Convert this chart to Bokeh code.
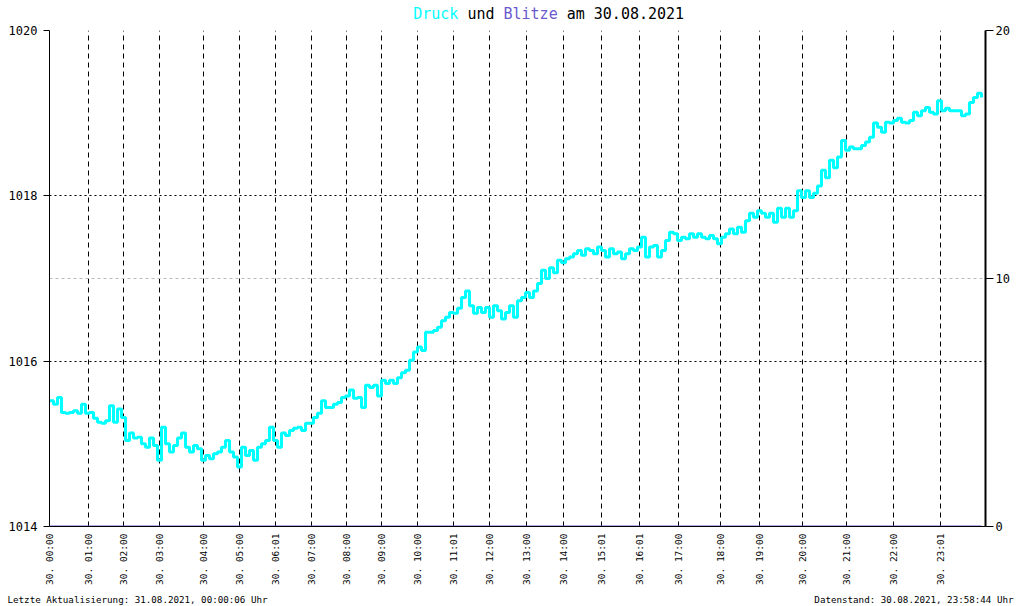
import math
from bokeh.plotting import figure
from bokeh.layouts import column
from bokeh.models import Range1d, LinearAxis, FixedTicker, Span
from bokeh.core.properties import value
from bokeh.embed import file_html
from bokeh.resources import INLINE

# ---- data -------------------------------------------------------------
druck = [
    1015.52, 1015.48, 1015.56, 1015.38, 1015.37, 1015.38, 1015.40, 1015.37, 1015.48, 1015.37,
    1015.38, 1015.31, 1015.26, 1015.25, 1015.28, 1015.46, 1015.26, 1015.42, 1015.32, 1015.04,
    1015.13, 1015.07, 1015.08, 1015.00, 1014.96, 1015.07, 1014.98, 1014.80, 1015.20, 1015.00,
    1014.90, 1014.98, 1015.07, 1015.13, 1014.96, 1014.90, 1014.98, 1014.94, 1014.80, 1014.86,
    1014.82, 1014.88, 1014.90, 1014.96, 1015.04, 1014.90, 1014.84, 1014.72, 1014.96, 1014.86,
    1014.92, 1014.80, 1014.96, 1015.00, 1015.04, 1015.20, 1015.04, 1014.96, 1015.13, 1015.10,
    1015.16, 1015.19, 1015.20, 1015.16, 1015.25, 1015.25, 1015.32, 1015.37, 1015.52, 1015.44,
    1015.44, 1015.48, 1015.50, 1015.56, 1015.58, 1015.65, 1015.55, 1015.56, 1015.44, 1015.71,
    1015.68, 1015.71, 1015.58, 1015.77, 1015.73, 1015.77, 1015.73, 1015.80, 1015.86, 1015.89,
    1016.01, 1016.11, 1016.17, 1016.13, 1016.35, 1016.35, 1016.37, 1016.41, 1016.49, 1016.53,
    1016.59, 1016.58, 1016.64, 1016.77, 1016.85, 1016.67, 1016.58, 1016.65, 1016.59, 1016.65,
    1016.53, 1016.67, 1016.61, 1016.51, 1016.59, 1016.67, 1016.53, 1016.73, 1016.77, 1016.83,
    1016.77, 1016.85, 1016.94, 1017.10, 1017.00, 1017.13, 1017.07, 1017.22, 1017.19, 1017.24,
    1017.26, 1017.30, 1017.34, 1017.28, 1017.36, 1017.34, 1017.30, 1017.38, 1017.34, 1017.26,
    1017.36, 1017.30, 1017.32, 1017.24, 1017.30, 1017.36, 1017.34, 1017.38, 1017.50, 1017.26,
    1017.38, 1017.40, 1017.26, 1017.34, 1017.46, 1017.56, 1017.54, 1017.46, 1017.50, 1017.48,
    1017.54, 1017.50, 1017.54, 1017.50, 1017.48, 1017.52, 1017.48, 1017.42, 1017.50, 1017.54,
    1017.60, 1017.54, 1017.62, 1017.56, 1017.70, 1017.79, 1017.74, 1017.82, 1017.79, 1017.74,
    1017.79, 1017.68, 1017.85, 1017.74, 1017.85, 1017.74, 1017.82, 1018.06, 1017.98, 1018.06,
    1017.98, 1018.03, 1018.12, 1018.31, 1018.22, 1018.43, 1018.34, 1018.47, 1018.67, 1018.55,
    1018.59, 1018.57, 1018.57, 1018.61, 1018.65, 1018.71, 1018.88, 1018.83, 1018.77, 1018.89,
    1018.88, 1018.91, 1018.94, 1018.89, 1018.88, 1018.91, 1019.01, 1018.97, 1019.03, 1019.07,
    1019.01, 1018.99, 1019.15, 1019.03, 1019.06, 1019.03, 1019.03, 1019.03, 1018.97, 1018.99,
    1019.13, 1019.19, 1019.24, 1019.19,
]
sample_index = list(range(len(druck)))

# sample index at which each hour label sits
hour_ticks = [0, 9.75, 18.6, 27.6, 38.6, 47.6, 56.6, 65.4, 74.25, 83, 92, 101,
              110, 119.25, 128.5, 138, 147.6, 157.25, 167.75, 177.5, 188.25, 199.25, 211, 222.75]
hour_labels = ["30. 00:00", "30. 01:00", "30. 02:00", "30. 03:00", "30. 04:00", "30. 05:00",
               "30. 06:01", "30. 07:00", "30. 08:00", "30. 09:00", "30. 10:00", "30. 11:01",
               "30. 12:00", "30. 13:00", "30. 14:00", "30. 15:01", "30. 16:01", "30. 17:00",
               "30. 18:00", "30. 19:00", "30. 20:00", "30. 21:00", "30. 22:00", "30. 23:01"]

blitze_x = hour_ticks + [233]
blitze = [0, 0, 0, 0, 0, 0, 0, 0, 0, 0, 0, 0, 0, 0, 0, 0, 0, 0, 0, 0, 0, 0, 0, 0, 0]

left_ticks = [1014, 1016, 1018, 1020]
right_ticks = [0, 10, 20]

title_words = ["Druck", "und", "Blitze", "am 30.08.2021"]
footer_left = "Letzte Aktualisierung: 31.08.2021, 00:00:06 Uhr"
footer_right = "Datenstand: 30.08.2021, 23:58:44 Uhr"

# ---- style ------------------------------------------------------------
MONO = "DejaVu Sans Mono"
CYAN = "#00FFFF"
SLATE = "#6A5ACD"
W = 1020


def bare(fig):
    fig.outline_line_color = None
    fig.background_fill_color = "white"
    fig.border_fill_color = "white"
    fig.xgrid.visible = False
    fig.ygrid.visible = False
    fig.frame_align = False
    return fig


# ---- title strip ------------------------------------------------------
TITLE_H = 22
tfig = bare(figure(width=W, height=TITLE_H, output_backend="svg", toolbar_location=None,
                   x_range=Range1d(0, W), y_range=Range1d(TITLE_H, 0),
                   x_axis_type=None, y_axis_type=None,
                   min_border_left=0, min_border_right=0, min_border_top=0, min_border_bottom=0))
char_w = 15 * 0.602
title_start = 412.7
title_offsets = [0, 6, 10, 17]
title_colors = [CYAN, "black", SLATE, "black"]
tfig.text(x=[title_start + o * char_w for o in title_offsets], y=[13] * 4, text=title_words,
          text_color=title_colors, text_font=value(MONO), text_font_size="15px",
          text_baseline="middle", text_align="left")

# ---- main chart -------------------------------------------------------
MAIN_H = 570
p = figure(width=W, height=MAIN_H, output_backend="svg", toolbar_location=None,
           x_range=Range1d(0, 234), y_range=Range1d(1014, 1020),
           min_border_left=49, min_border_right=35, min_border_top=8, min_border_bottom=66)
p.extra_y_ranges = {"blitz": Range1d(0, 20)}
p.outline_line_color = None
p.background_fill_color = "white"
p.border_fill_color = "white"
p.frame_align = False

xa = p.xaxis[0]
xa.ticker = FixedTicker(ticks=hour_ticks)
xa.major_label_overrides = {t: l for t, l in zip(hour_ticks, hour_labels)}
xa.major_label_orientation = math.pi / 2
xa.major_tick_out = 0
xa.major_tick_in = 0
xa.minor_tick_out = 0
xa.minor_tick_in = 0
xa.major_label_standoff = 7
xa.major_label_text_font = MONO
xa.major_label_text_font_size = "9.5px"
xa.major_label_text_color = "black"
xa.axis_line_color = "black"

ya = p.yaxis[0]
ya.ticker = FixedTicker(ticks=left_ticks)
ya.major_tick_out = 6
ya.major_tick_in = 0
ya.minor_tick_out = 0
ya.minor_tick_in = 0
ya.major_label_standoff = 6
ya.major_label_text_font = MONO
ya.major_label_text_font_size = "12px"
ya.major_label_text_color = "black"
ya.axis_line_color = "black"

ra = LinearAxis(y_range_name="blitz", ticker=FixedTicker(ticks=right_ticks))
ra.major_tick_out = 8
ra.major_tick_in = 0
ra.minor_tick_out = 0
ra.minor_tick_in = 0
ra.major_label_standoff = 2
ra.major_label_text_font = MONO
ra.major_label_text_font_size = "12px"
ra.major_label_text_color = "black"
ra.axis_line_color = "black"
ra.axis_line_width = 2
p.add_layout(ra, "right")

p.xgrid.ticker = FixedTicker(ticks=hour_ticks)
p.xgrid.grid_line_color = "black"
p.xgrid.grid_line_dash = "5 4"
p.xgrid.grid_line_width = 1
p.ygrid.ticker = FixedTicker(ticks=left_ticks)
p.ygrid.grid_line_color = "black"
p.ygrid.grid_line_dash = "2 3"
p.ygrid.grid_line_width = 1

yr = p.y_range
br = p.extra_y_ranges["blitz"]
loc10 = yr.start + (right_ticks[1] - br.start) / (br.end - br.start) * (yr.end - yr.start)
p.add_layout(Span(location=loc10, dimension="width", line_color="#bbbbbb",
                  line_dash="3 3", line_width=1, level="underlay"))

p.step(sample_index, druck, mode="after", line_color=CYAN, line_width=3)
p.line(blitze_x, blitze, y_range_name="blitz", line_color=SLATE, line_width=2)

# ---- footer strip -----------------------------------------------------
FOOT_H = 606 - TITLE_H - MAIN_H
ffig = bare(figure(width=W, height=FOOT_H, output_backend="svg", toolbar_location=None,
                   x_range=Range1d(0, W), y_range=Range1d(FOOT_H, 0),
                   x_axis_type=None, y_axis_type=None,
                   min_border_left=0, min_border_right=0, min_border_top=0, min_border_bottom=0))
ffig.text(x=[7, 1013], y=[FOOT_H / 2, FOOT_H / 2], text=[footer_left, footer_right],
          text_align=["left", "right"], text_color="black", text_font=value(MONO),
          text_font_size="9.2px", text_baseline="middle")

layout = column(tfig, p, ffig, spacing=0)
open("out.html", "w").write(file_html(layout, INLINE))
